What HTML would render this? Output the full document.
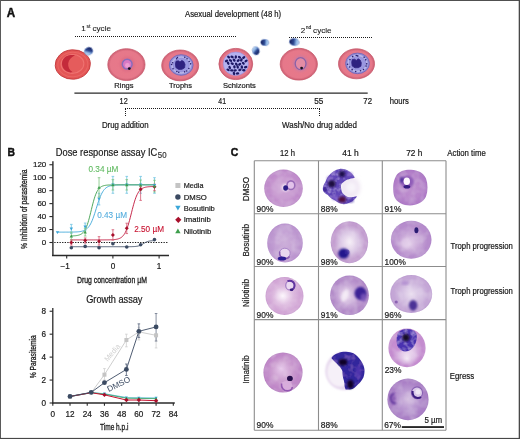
<!DOCTYPE html>
<html><head><meta charset="utf-8"><style>
html,body{margin:0;padding:0;background:#fff;}
body{width:520px;height:439px;overflow:hidden;}
svg{display:block;font-family:'Liberation Sans',sans-serif;will-change:transform;}
svg text{font-family:'Liberation Sans',sans-serif;}
</style></head><body>
<svg width="520" height="439" viewBox="0 0 520 439">
<defs>
<filter id="b05" x="-20%" y="-20%" width="140%" height="140%"><feGaussianBlur stdDeviation="0.5"/></filter>
<filter id="b08" x="-20%" y="-20%" width="140%" height="140%"><feGaussianBlur stdDeviation="0.8"/></filter>
<filter id="b12" x="-30%" y="-30%" width="160%" height="160%"><feGaussianBlur stdDeviation="1.2"/></filter>
<filter id="b2" x="-40%" y="-40%" width="180%" height="180%"><feGaussianBlur stdDeviation="2"/></filter>
<radialGradient id="rbc" cx="50%" cy="50%" r="50%">
  <stop offset="0" stop-color="#ee6e6e"/><stop offset="0.7" stop-color="#e86262"/><stop offset="0.88" stop-color="#e45a5a"/><stop offset="1" stop-color="#d04a4c"/>
</radialGradient>
<radialGradient id="pinkcell" cx="50%" cy="50%" r="50%">
  <stop offset="0" stop-color="#e8798a"/><stop offset="0.85" stop-color="#e6788a"/><stop offset="1" stop-color="#cc5e72"/>
</radialGradient>
<radialGradient id="mz" cx="60%" cy="35%" r="60%">
  <stop offset="0" stop-color="#14246a"/><stop offset="0.45" stop-color="#2a4a9a"/><stop offset="0.75" stop-color="#8ab8e8"/><stop offset="1" stop-color="#c8e0f6"/>
</radialGradient>
<linearGradient id="mzg1" x1="12%" y1="82%" x2="88%" y2="18%"><stop offset="0" stop-color="#c8def4"/><stop offset="0.3" stop-color="#8ab2e2"/><stop offset="0.55" stop-color="#2e4a94"/><stop offset="1" stop-color="#141c56"/></linearGradient><linearGradient id="mzg2" x1="25%" y1="7%" x2="75%" y2="93%"><stop offset="0" stop-color="#c8def4"/><stop offset="0.3" stop-color="#8ab2e2"/><stop offset="0.55" stop-color="#2e4a94"/><stop offset="1" stop-color="#141c56"/></linearGradient><linearGradient id="mzg3" x1="100%" y1="50%" x2="0%" y2="50%"><stop offset="0" stop-color="#c8def4"/><stop offset="0.3" stop-color="#8ab2e2"/><stop offset="0.55" stop-color="#2e4a94"/><stop offset="1" stop-color="#141c56"/></linearGradient><linearGradient id="mzg4" x1="100%" y1="50%" x2="0%" y2="50%"><stop offset="0" stop-color="#c8def4"/><stop offset="0.3" stop-color="#8ab2e2"/><stop offset="0.55" stop-color="#2e4a94"/><stop offset="1" stop-color="#141c56"/></linearGradient>
<filter id="tex" x="-20%" y="-20%" width="140%" height="140%">
  <feTurbulence type="fractalNoise" baseFrequency="0.12" numOctaves="2" seed="4" result="n"/>
  <feColorMatrix in="n" type="matrix" values="0 0 0 0 1  0 0 0 0 0.96  0 0 0 0 1  0 0 0 0.4 -0.16" result="w"/>
  <feComposite in="w" in2="SourceGraphic" operator="in" result="wm"/>
  <feMerge result="m"><feMergeNode in="SourceGraphic"/><feMergeNode in="wm"/></feMerge>
  <feGaussianBlur in="m" stdDeviation="0.55"/>
</filter>
<filter id="texd" x="-20%" y="-20%" width="140%" height="140%">
  <feTurbulence type="fractalNoise" baseFrequency="0.25" numOctaves="2" seed="9" result="n"/>
  <feColorMatrix in="n" type="matrix" values="0 0 0 0 0.55  0 0 0 0 0.42  0 0 0 0 0.85  0 0 0 1.2 -0.5" result="w"/>
  <feComposite in="w" in2="SourceGraphic" operator="in" result="wm"/>
  <feMerge result="m"><feMergeNode in="SourceGraphic"/><feMergeNode in="wm"/></feMerge>
  <feGaussianBlur in="m" stdDeviation="0.6"/>
</filter>
<radialGradient id="cg1" cx="50%" cy="50%" r="50%" fx="50%" fy="50%"><stop offset="0" stop-color="#d0a6d6"/><stop offset="0.5" stop-color="#c99ad0"/><stop offset="0.82" stop-color="#c08ccb"/><stop offset="0.92" stop-color="#c08ccb"/><stop offset="1" stop-color="#b884c4"/></radialGradient><radialGradient id="cgDM3" cx="50%" cy="50%" r="55%"><stop offset="0" stop-color="#c092cf"/><stop offset="0.6" stop-color="#b886cb"/><stop offset="0.88" stop-color="#ae7ac6"/><stop offset="1" stop-color="#a672c0"/></radialGradient><radialGradient id="cg2" cx="50%" cy="50%" r="50%" fx="50%" fy="50%"><stop offset="0" stop-color="#ccafd9"/><stop offset="0.5" stop-color="#c5a3d5"/><stop offset="0.82" stop-color="#bc96cf"/><stop offset="0.92" stop-color="#bc96cf"/><stop offset="1" stop-color="#b48ccb"/></radialGradient><radialGradient id="cg3" cx="50%" cy="50%" r="50%" fx="50%" fy="50%"><stop offset="0" stop-color="#f6eff7"/><stop offset="0.5" stop-color="#dac6e4"/><stop offset="0.82" stop-color="#c29ccf"/><stop offset="0.92" stop-color="#c29ccf"/><stop offset="1" stop-color="#bc96cc"/></radialGradient><radialGradient id="cg4" cx="50%" cy="50%" r="50%" fx="45%" fy="62%"><stop offset="0" stop-color="#e4d0ea"/><stop offset="0.5" stop-color="#c6a4d6"/><stop offset="0.82" stop-color="#b68ccc"/><stop offset="0.92" stop-color="#b68ccc"/><stop offset="1" stop-color="#ae84c8"/></radialGradient><radialGradient id="cg5" cx="50%" cy="50%" r="50%" fx="45%" fy="50%"><stop offset="0" stop-color="#fcf6fc"/><stop offset="0.5" stop-color="#ddbadf"/><stop offset="0.82" stop-color="#d2a6d6"/><stop offset="0.92" stop-color="#d2a6d6"/><stop offset="1" stop-color="#c89ace"/></radialGradient><radialGradient id="cg6" cx="50%" cy="50%" r="50%" fx="38%" fy="50%"><stop offset="0" stop-color="#f0e4f2"/><stop offset="0.5" stop-color="#c6a6d6"/><stop offset="0.82" stop-color="#b28ac8"/><stop offset="0.92" stop-color="#b28ac8"/><stop offset="1" stop-color="#aa82c4"/></radialGradient><radialGradient id="cg7" cx="50%" cy="50%" r="50%" fx="50%" fy="50%"><stop offset="0" stop-color="#ebe0f0"/><stop offset="0.5" stop-color="#d2bce0"/><stop offset="0.82" stop-color="#c4a6d6"/><stop offset="0.92" stop-color="#c4a6d6"/><stop offset="1" stop-color="#ba9acf"/></radialGradient><radialGradient id="cg8" cx="50%" cy="50%" r="50%" fx="45%" fy="40%"><stop offset="0" stop-color="#e6c8ea"/><stop offset="0.5" stop-color="#cc9ed0"/><stop offset="0.82" stop-color="#c088c8"/><stop offset="0.92" stop-color="#c088c8"/><stop offset="1" stop-color="#b680c0"/></radialGradient><filter id="texd2" x="-20%" y="-20%" width="140%" height="140%">
  <feTurbulence type="fractalNoise" baseFrequency="0.18" numOctaves="2" seed="21" result="n"/>
  <feColorMatrix in="n" type="matrix" values="0 0 0 0 0.42  0 0 0 0 0.22  0 0 0 0 0.72  0 0 0 0.7 -0.32" result="w"/>
  <feComposite in="w" in2="SourceGraphic" operator="in" result="wm"/>
  <feMerge result="m"><feMergeNode in="SourceGraphic"/><feMergeNode in="wm"/></feMerge>
  <feGaussianBlur in="m" stdDeviation="0.6"/>
</filter><radialGradient id="cg9" cx="50%" cy="50%" r="50%" fx="50%" fy="78%"><stop offset="0" stop-color="#f2e6f4"/><stop offset="0.5" stop-color="#d8b4e0"/><stop offset="0.82" stop-color="#c48ccf"/><stop offset="0.92" stop-color="#c48ccf"/><stop offset="1" stop-color="#c690d0"/></radialGradient><radialGradient id="cg10" cx="50%" cy="50%" r="50%" fx="50%" fy="50%"><stop offset="0" stop-color="#d4bee0"/><stop offset="0.5" stop-color="#b896d0"/><stop offset="0.82" stop-color="#aa80c6"/><stop offset="0.92" stop-color="#aa80c6"/><stop offset="1" stop-color="#a278c0"/></radialGradient></defs>
<rect width="520" height="439" fill="#fff"/>
<text x="6.70" y="16.60" font-size="12.0" fill="#111" stroke="#111" stroke-width="0.45" textLength="8.40" lengthAdjust="spacingAndGlyphs" font-weight="bold">A</text>
<text x="185.00" y="17.30" font-size="8.29" fill="#1a1a1a" stroke="#1a1a1a" stroke-width="0.2" textLength="96.20" lengthAdjust="spacingAndGlyphs">Asexual development (48 h)</text>
<text x="81.3" y="31.4" font-size="8.1" fill="#1a1a1a" stroke="#1a1a1a" stroke-width="0.1">1<tspan font-size="5.0" dy="-3.2" dx="0.6">st</tspan><tspan dy="3.2" dx="2.2">cycle</tspan></text>
<text x="300.8" y="32.5" font-size="8.1" fill="#1a1a1a" stroke="#1a1a1a" stroke-width="0.1">2<tspan font-size="5.0" dy="-3.2" dx="0.4">nd</tspan><tspan dy="3.2" dx="1.8">cycle</tspan></text>
<line x1="75.00" y1="36.50" x2="236.00" y2="36.50" stroke="#1a1a1a" stroke-width="1.0" stroke-dasharray="1 1"/>
<line x1="289.00" y1="37.50" x2="372.00" y2="37.50" stroke="#1a1a1a" stroke-width="1.0" stroke-dasharray="1 1"/>
<g transform="translate(72.8,64.5) rotate(-4)"><ellipse rx="17.6" ry="14.7" fill="#e35656" stroke="#c43a3e" stroke-width="0.9"/><ellipse cx="0" cy="0" rx="15.0" ry="12.3" fill="none" stroke="#e96664" stroke-width="1.0"/><ellipse cx="-0.3" cy="-0.6" rx="11.4" ry="9.4" fill="#e55c5c" stroke="#ee7270" stroke-width="1.1"/></g>
<path d="M75,55.3 C70,54.3 64.5,55.8 62.6,60.5 C61,64.5 62.8,69 66.5,71.3 C68.8,72.5 71,72.6 72.6,72.1 C69.4,70 67.8,66.8 68.2,63.2 C68.7,59.7 71.6,57 75,55.3 Z" fill="#c42a3a" filter="url(#b05)"/>
<ellipse cx="88.6" cy="51.2" rx="4.2" ry="3.7" transform="rotate(-30 88.6 51.2)" fill="url(#mzg1)" stroke="#5a7ac0" stroke-width="0.5" filter="url(#b05)"/>
<ellipse cx="255.9" cy="50.8" rx="3.4" ry="4.1" transform="rotate(-15 255.9 50.8)" fill="url(#mzg2)" stroke="#5a7ac0" stroke-width="0.5" filter="url(#b05)"/>
<ellipse cx="264.8" cy="42.5" rx="4.1" ry="3.1" transform="rotate(5 264.8 42.5)" fill="url(#mzg3)" stroke="#5a7ac0" stroke-width="0.5" filter="url(#b05)"/>
<ellipse cx="294.3" cy="42.0" rx="5.0" ry="3.6" transform="rotate(8 294.3 42.0)" fill="url(#mzg4)" stroke="#5a7ac0" stroke-width="0.5" filter="url(#b05)"/>
<ellipse cx="126.4" cy="64.6" rx="18.6" ry="15.9" fill="url(#pinkcell)" stroke="#c85a6c" stroke-width="0.8"/>
<circle cx="127.2" cy="64.19999999999999" r="7.6" fill="#dc6c84" filter="url(#b08)" opacity="0.8"/>
<circle cx="127.2" cy="64.19999999999999" r="4.9" fill="#d878c4" stroke="#8a6cbc" stroke-width="1.5" filter="url(#b05)"/>
<circle cx="127.4" cy="65.39999999999999" r="2.4" fill="#ec9cd2" filter="url(#b05)"/>
<circle cx="129.3" cy="68.6" r="1.4" fill="#14101c"/>
<ellipse cx="298.8" cy="64.2" rx="18.6" ry="15.9" fill="url(#pinkcell)" stroke="#c85a6c" stroke-width="0.8"/>
<ellipse cx="300.6" cy="63.6" rx="7.6" ry="8" fill="#c87aa2" filter="url(#b08)" opacity="0.8"/>
<ellipse cx="300.6" cy="63.6" rx="5.4" ry="6.0" fill="#e48ca4" stroke="#8a62a8" stroke-width="1.3" filter="url(#b05)"/>
<circle cx="301.6" cy="68.10000000000001" r="1.4" fill="#14101c"/>
<ellipse cx="180.2" cy="65.4" rx="18.5" ry="15.4" fill="url(#pinkcell)" stroke="#c85a6c" stroke-width="0.8"/>
<ellipse cx="181.2" cy="65.0" rx="11.9" ry="10.3" fill="#9490da" stroke="#7066b8" stroke-width="0.9" filter="url(#b05)"/>
<ellipse cx="181.2" cy="65.0" rx="9.4" ry="8.0" fill="none" stroke="#b8b6ea" stroke-width="1.6" filter="url(#b05)"/>
<ellipse cx="181.2" cy="65.0" rx="7.6" ry="6.6" fill="#9a98e0" filter="url(#b05)"/>
<path d="M175.40,63.90 L176.00,61.20 L178.40,60.80 L180.00,62.00 L181.80,60.40 L183.80,61.60 L185.00,64.40 L184.60,67.80 L182.00,69.30 L178.70,69.40 L175.90,67.60 Z" fill="#2e2280" stroke="#2e2280" stroke-width="0.8" stroke-linejoin="round" filter="url(#b05)"/>
<circle cx="190.62" cy="63.84" r="0.8" fill="#2a2070"/>
<circle cx="188.84" cy="68.56" r="0.8" fill="#2a2070"/>
<circle cx="186.71" cy="70.98" r="0.8" fill="#2a2070"/>
<circle cx="184.66" cy="71.85" r="0.8" fill="#2a2070"/>
<circle cx="178.76" cy="72.18" r="0.8" fill="#2a2070"/>
<circle cx="176.86" cy="71.56" r="0.8" fill="#2a2070"/>
<circle cx="173.06" cy="68.70" r="0.8" fill="#2a2070"/>
<circle cx="171.58" cy="64.50" r="0.8" fill="#2a2070"/>
<circle cx="172.59" cy="62.74" r="0.8" fill="#2a2070"/>
<circle cx="176.64" cy="58.74" r="0.8" fill="#2a2070"/>
<circle cx="177.42" cy="57.57" r="0.8" fill="#2a2070"/>
<circle cx="184.79" cy="57.27" r="0.8" fill="#2a2070"/>
<circle cx="187.04" cy="58.73" r="0.8" fill="#2a2070"/>
<circle cx="189.15" cy="61.46" r="0.8" fill="#2a2070"/>
<ellipse cx="356.5" cy="63.8" rx="18" ry="15" fill="url(#pinkcell)" stroke="#c85a6c" stroke-width="0.8"/>
<ellipse cx="357.5" cy="63.4" rx="11.9" ry="10.3" fill="#9490da" stroke="#7066b8" stroke-width="0.9" filter="url(#b05)"/>
<ellipse cx="357.5" cy="63.4" rx="9.4" ry="8.0" fill="none" stroke="#b8b6ea" stroke-width="1.6" filter="url(#b05)"/>
<ellipse cx="357.5" cy="63.4" rx="7.6" ry="6.6" fill="#9a98e0" filter="url(#b05)"/>
<path d="M351.70,62.30 L352.30,59.60 L354.70,59.20 L356.30,60.40 L358.10,58.80 L360.10,60.00 L361.30,62.80 L360.90,66.20 L358.30,67.70 L355.00,67.80 L352.20,66.00 Z" fill="#2e2280" stroke="#2e2280" stroke-width="0.8" stroke-linejoin="round" filter="url(#b05)"/>
<circle cx="366.69" cy="63.87" r="0.8" fill="#2a2070"/>
<circle cx="366.10" cy="66.10" r="0.8" fill="#2a2070"/>
<circle cx="363.47" cy="69.57" r="0.8" fill="#2a2070"/>
<circle cx="360.57" cy="70.68" r="0.8" fill="#2a2070"/>
<circle cx="355.67" cy="71.44" r="0.8" fill="#2a2070"/>
<circle cx="352.14" cy="69.65" r="0.8" fill="#2a2070"/>
<circle cx="349.61" cy="67.02" r="0.8" fill="#2a2070"/>
<circle cx="347.55" cy="64.21" r="0.8" fill="#2a2070"/>
<circle cx="349.96" cy="59.58" r="0.8" fill="#2a2070"/>
<circle cx="352.73" cy="56.61" r="0.8" fill="#2a2070"/>
<circle cx="356.27" cy="55.56" r="0.8" fill="#2a2070"/>
<circle cx="357.73" cy="55.88" r="0.8" fill="#2a2070"/>
<circle cx="364.15" cy="57.29" r="0.8" fill="#2a2070"/>
<circle cx="365.74" cy="59.83" r="0.8" fill="#2a2070"/>
<ellipse cx="235.8" cy="64.0" rx="16.9" ry="15.6" fill="url(#pinkcell)" stroke="#c85a6c" stroke-width="0.8"/>
<ellipse cx="235.8" cy="63.7" rx="12.6" ry="11.7" fill="#b4b2f0" stroke="#9a8edc" stroke-width="0.6" filter="url(#b05)"/>
<ellipse cx="228.65" cy="57.04" rx="1.75" ry="1.2" transform="rotate(41 228.65 57.04)" fill="#1c1864"/>
<ellipse cx="232.08" cy="56.90" rx="1.75" ry="1.2" transform="rotate(22 232.08 56.90)" fill="#1c1864"/>
<ellipse cx="235.81" cy="56.99" rx="1.75" ry="1.2" transform="rotate(95 235.81 56.99)" fill="#1c1864"/>
<ellipse cx="239.49" cy="57.19" rx="1.75" ry="1.2" transform="rotate(34 239.49 57.19)" fill="#1c1864"/>
<ellipse cx="243.72" cy="57.50" rx="1.75" ry="1.2" transform="rotate(145 243.72 57.50)" fill="#1c1864"/>
<ellipse cx="226.55" cy="60.86" rx="1.75" ry="1.2" transform="rotate(151 226.55 60.86)" fill="#1c1864"/>
<ellipse cx="230.52" cy="60.47" rx="1.75" ry="1.2" transform="rotate(33 230.52 60.47)" fill="#1c1864"/>
<ellipse cx="234.15" cy="60.11" rx="1.75" ry="1.2" transform="rotate(50 234.15 60.11)" fill="#1c1864"/>
<ellipse cx="238.21" cy="60.47" rx="1.75" ry="1.2" transform="rotate(145 238.21 60.47)" fill="#1c1864"/>
<ellipse cx="241.35" cy="59.96" rx="1.75" ry="1.2" transform="rotate(116 241.35 59.96)" fill="#1c1864"/>
<ellipse cx="246.05" cy="60.89" rx="1.75" ry="1.2" transform="rotate(145 246.05 60.89)" fill="#1c1864"/>
<ellipse cx="228.16" cy="63.24" rx="1.75" ry="1.2" transform="rotate(62 228.16 63.24)" fill="#1c1864"/>
<ellipse cx="232.21" cy="63.53" rx="1.75" ry="1.2" transform="rotate(23 232.21 63.53)" fill="#1c1864"/>
<ellipse cx="236.33" cy="64.18" rx="1.75" ry="1.2" transform="rotate(53 236.33 64.18)" fill="#1c1864"/>
<ellipse cx="239.71" cy="64.20" rx="1.75" ry="1.2" transform="rotate(143 239.71 64.20)" fill="#1c1864"/>
<ellipse cx="243.33" cy="63.28" rx="1.75" ry="1.2" transform="rotate(49 243.33 63.28)" fill="#1c1864"/>
<ellipse cx="229.69" cy="67.46" rx="1.75" ry="1.2" transform="rotate(62 229.69 67.46)" fill="#1c1864"/>
<ellipse cx="234.41" cy="66.88" rx="1.75" ry="1.2" transform="rotate(75 234.41 66.88)" fill="#1c1864"/>
<ellipse cx="237.69" cy="67.02" rx="1.75" ry="1.2" transform="rotate(76 237.69 67.02)" fill="#1c1864"/>
<ellipse cx="241.85" cy="67.10" rx="1.75" ry="1.2" transform="rotate(74 241.85 67.10)" fill="#1c1864"/>
<ellipse cx="245.63" cy="67.12" rx="1.75" ry="1.2" transform="rotate(166 245.63 67.12)" fill="#1c1864"/>
<ellipse cx="228.07" cy="69.81" rx="1.75" ry="1.2" transform="rotate(28 228.07 69.81)" fill="#1c1864"/>
<ellipse cx="231.78" cy="70.38" rx="1.75" ry="1.2" transform="rotate(1 231.78 70.38)" fill="#1c1864"/>
<ellipse cx="235.13" cy="70.42" rx="1.75" ry="1.2" transform="rotate(170 235.13 70.42)" fill="#1c1864"/>
<ellipse cx="239.89" cy="69.86" rx="1.75" ry="1.2" transform="rotate(158 239.89 69.86)" fill="#1c1864"/>
<ellipse cx="243.78" cy="70.27" rx="1.75" ry="1.2" transform="rotate(178 243.78 70.27)" fill="#1c1864"/>
<ellipse cx="233.98" cy="73.42" rx="1.75" ry="1.2" transform="rotate(78 233.98 73.42)" fill="#1c1864"/>
<ellipse cx="237.56" cy="73.41" rx="1.75" ry="1.2" transform="rotate(171 237.56 73.41)" fill="#1c1864"/>
<text x="114.30" y="87.80" font-size="7.98" fill="#1a1a1a" stroke="#1a1a1a" stroke-width="0.2" textLength="19.20" lengthAdjust="spacingAndGlyphs">Rings</text>
<text x="169.00" y="88.00" font-size="7.98" fill="#1a1a1a" stroke="#1a1a1a" stroke-width="0.2" textLength="22.90" lengthAdjust="spacingAndGlyphs">Trophs</text>
<text x="223.00" y="87.90" font-size="7.98" fill="#1a1a1a" stroke="#1a1a1a" stroke-width="0.2" textLength="32.80" lengthAdjust="spacingAndGlyphs">Schizonts</text>
<line x1="74.40" y1="93.20" x2="367.70" y2="93.20" stroke="#2a2a2a" stroke-width="1.2"/>
<text x="119.60" y="103.70" font-size="8.19" fill="#1a1a1a" stroke="#1a1a1a" stroke-width="0.2" textLength="8.10" lengthAdjust="spacingAndGlyphs">12</text>
<text x="218.30" y="103.70" font-size="8.19" fill="#1a1a1a" stroke="#1a1a1a" stroke-width="0.2" textLength="7.70" lengthAdjust="spacingAndGlyphs">41</text>
<text x="314.20" y="103.70" font-size="8.19" fill="#1a1a1a" stroke="#1a1a1a" stroke-width="0.2" textLength="9.10" lengthAdjust="spacingAndGlyphs">55</text>
<text x="363.30" y="103.70" font-size="8.19" fill="#1a1a1a" stroke="#1a1a1a" stroke-width="0.2" textLength="8.70" lengthAdjust="spacingAndGlyphs">72</text>
<text x="389.70" y="103.50" font-size="8.19" fill="#1a1a1a" stroke="#1a1a1a" stroke-width="0.2" textLength="19.20" lengthAdjust="spacingAndGlyphs">hours</text>
<line x1="125.00" y1="108.50" x2="320.00" y2="108.50" stroke="#1a1a1a" stroke-width="1.0" stroke-dasharray="1 1"/>
<line x1="125.50" y1="109.00" x2="125.50" y2="117.00" stroke="#1a1a1a" stroke-width="1.0" stroke-dasharray="1 1"/>
<line x1="319.50" y1="109.00" x2="319.50" y2="117.00" stroke="#1a1a1a" stroke-width="1.0" stroke-dasharray="1 1"/>
<text x="101.90" y="127.70" font-size="8.19" fill="#1a1a1a" stroke="#1a1a1a" stroke-width="0.2" textLength="46.60" lengthAdjust="spacingAndGlyphs">Drug addition</text>
<text x="282.00" y="127.70" font-size="8.19" fill="#1a1a1a" stroke="#1a1a1a" stroke-width="0.2" textLength="75.00" lengthAdjust="spacingAndGlyphs">Wash/No drug added</text>
<text x="7.60" y="155.90" font-size="11.6" fill="#111" stroke="#111" stroke-width="0.45" textLength="7.50" lengthAdjust="spacingAndGlyphs" font-weight="bold">B</text>
<text x="55.80" y="155.60" font-size="10.5" fill="#1a1a1a" stroke="#1a1a1a" stroke-width="0.2" textLength="101.40" lengthAdjust="spacingAndGlyphs">Dose response assay IC</text>
<text x="157.80" y="157.60" font-size="8.19" fill="#333" stroke="#333" stroke-width="0.2" textLength="8.70" lengthAdjust="spacingAndGlyphs">50</text>
<line x1="52.90" y1="161.20" x2="52.90" y2="256.10" stroke="#2a2a2a" stroke-width="1.4"/>
<line x1="52.00" y1="255.50" x2="169.00" y2="255.50" stroke="#2a2a2a" stroke-width="1.3"/>
<line x1="49.40" y1="242.50" x2="52.90" y2="242.50" stroke="#2a2a2a" stroke-width="1.1"/>
<text x="46.30" y="245.20" font-size="7.98" fill="#1a1a1a" stroke="#1a1a1a" stroke-width="0.2" text-anchor="end">0</text>
<line x1="49.40" y1="229.54" x2="52.90" y2="229.54" stroke="#2a2a2a" stroke-width="1.1"/>
<text x="46.30" y="232.24" font-size="7.98" fill="#1a1a1a" stroke="#1a1a1a" stroke-width="0.2" text-anchor="end">20</text>
<line x1="49.40" y1="216.58" x2="52.90" y2="216.58" stroke="#2a2a2a" stroke-width="1.1"/>
<text x="46.30" y="219.28" font-size="7.98" fill="#1a1a1a" stroke="#1a1a1a" stroke-width="0.2" text-anchor="end">40</text>
<line x1="49.40" y1="203.62" x2="52.90" y2="203.62" stroke="#2a2a2a" stroke-width="1.1"/>
<text x="46.30" y="206.32" font-size="7.98" fill="#1a1a1a" stroke="#1a1a1a" stroke-width="0.2" text-anchor="end">60</text>
<line x1="49.40" y1="190.66" x2="52.90" y2="190.66" stroke="#2a2a2a" stroke-width="1.1"/>
<text x="46.30" y="193.36" font-size="7.98" fill="#1a1a1a" stroke="#1a1a1a" stroke-width="0.2" text-anchor="end">80</text>
<line x1="49.40" y1="177.70" x2="52.90" y2="177.70" stroke="#2a2a2a" stroke-width="1.1"/>
<text x="46.30" y="180.40" font-size="7.98" fill="#1a1a1a" stroke="#1a1a1a" stroke-width="0.2" text-anchor="end">100</text>
<line x1="49.40" y1="164.74" x2="52.90" y2="164.74" stroke="#2a2a2a" stroke-width="1.1"/>
<text x="46.30" y="167.44" font-size="7.98" fill="#1a1a1a" stroke="#1a1a1a" stroke-width="0.2" text-anchor="end">120</text>
<line x1="66.70" y1="255.50" x2="66.70" y2="258.60" stroke="#2a2a2a" stroke-width="1.1"/>
<text x="65.20" y="269.20" font-size="8.19" fill="#1a1a1a" stroke="#1a1a1a" stroke-width="0.2" text-anchor="middle">−1</text>
<line x1="112.90" y1="255.50" x2="112.90" y2="258.60" stroke="#2a2a2a" stroke-width="1.1"/>
<text x="112.90" y="269.20" font-size="8.19" fill="#1a1a1a" stroke="#1a1a1a" stroke-width="0.2" text-anchor="middle">0</text>
<line x1="159.10" y1="255.50" x2="159.10" y2="258.60" stroke="#2a2a2a" stroke-width="1.1"/>
<text x="159.10" y="269.20" font-size="8.19" fill="#1a1a1a" stroke="#1a1a1a" stroke-width="0.2" text-anchor="middle">1</text>
<text x="0" y="0" font-size="9.03" fill="#1a1a1a" text-anchor="middle" dominant-baseline="central" stroke="#1a1a1a" stroke-width="0.3" textLength="79.60" lengthAdjust="spacingAndGlyphs" transform="translate(23.60,209.20) rotate(-90)">% Inhibition of parasitemia</text>
<text x="76.90" y="283.30" font-size="9.03" fill="#1a1a1a" stroke="#1a1a1a" stroke-width="0.3" textLength="70.00" lengthAdjust="spacingAndGlyphs">Drug concentration µM</text>
<line x1="54.30" y1="242.50" x2="167.50" y2="242.50" stroke="#1a1a1a" stroke-width="1.05" stroke-dasharray="1.3 1.3"/>
<polyline points="71.32,246.71 72.01,246.71 72.71,246.71 73.40,246.71 74.09,246.71 74.78,246.71 75.48,246.71 76.17,246.71 76.86,246.71 77.56,246.71 78.25,246.71 78.94,246.71 79.64,246.71 80.33,246.71 81.02,246.71 81.72,246.71 82.41,246.71 83.10,246.71 83.79,246.71 84.49,246.71 85.18,246.71 85.87,246.71 86.57,246.71 87.26,246.71 87.95,246.71 88.65,246.71 89.34,246.71 90.03,246.71 90.72,246.71 91.42,246.71 92.11,246.71 92.80,246.71 93.50,246.71 94.19,246.71 94.88,246.71 95.58,246.71 96.27,246.71 96.96,246.71 97.65,246.71 98.35,246.71 99.04,246.71 99.73,246.71 100.43,246.71 101.12,246.71 101.81,246.71 102.51,246.71 103.20,246.71 103.89,246.71 104.58,246.71 105.28,246.71 105.97,246.71 106.66,246.71 107.36,246.71 108.05,246.71 108.74,246.71 109.44,246.71 110.13,246.71 110.82,246.71 111.51,246.71 112.21,246.71 112.90,246.71 113.59,246.71 114.29,246.71 114.98,246.71 115.67,246.71 116.37,246.71 117.06,246.71 117.75,246.71 118.44,246.71 119.14,246.71 119.83,246.71 120.52,246.71 121.22,246.71 121.91,246.71 122.60,246.71 123.30,246.71 123.99,246.71 124.68,246.71 125.37,246.71 126.07,246.71 126.76,246.70 127.45,246.70 128.15,246.70 128.84,246.69 129.53,246.69 130.22,246.68 130.92,246.67 131.61,246.66 132.30,246.64 133.00,246.62 133.69,246.59 134.38,246.55 135.08,246.50 135.77,246.43 136.46,246.35 137.16,246.24 137.85,246.10 138.54,245.93 139.23,245.73 139.93,245.48 140.62,245.18 141.31,244.84 142.01,244.46 142.70,244.06 143.39,243.63 144.09,243.21 144.78,242.80 145.47,242.43 146.16,242.09 146.86,241.79 147.55,241.54 148.24,241.33 148.94,241.16 149.63,241.03 150.32,240.92 151.02,240.84 151.71,240.77 152.40,240.72 153.09,240.68 153.79,240.65 154.48,240.63" fill="none" stroke="#3b4a62" stroke-width="0.9"/>
<polyline points="71.32,239.91 72.01,239.91 72.71,239.91 73.40,239.91 74.09,239.91 74.78,239.91 75.48,239.91 76.17,239.91 76.86,239.91 77.56,239.91 78.25,239.91 78.94,239.91 79.64,239.91 80.33,239.91 81.02,239.91 81.72,239.91 82.41,239.91 83.10,239.91 83.79,239.91 84.49,239.91 85.18,239.91 85.87,239.91 86.57,239.91 87.26,239.91 87.95,239.91 88.65,239.91 89.34,239.91 90.03,239.91 90.72,239.91 91.42,239.91 92.11,239.91 92.80,239.91 93.50,239.91 94.19,239.91 94.88,239.91 95.58,239.91 96.27,239.91 96.96,239.91 97.65,239.91 98.35,239.91 99.04,239.90 99.73,239.90 100.43,239.90 101.12,239.90 101.81,239.90 102.51,239.90 103.20,239.90 103.89,239.89 104.58,239.89 105.28,239.89 105.97,239.88 106.66,239.88 107.36,239.87 108.05,239.86 108.74,239.85 109.44,239.83 110.13,239.82 110.82,239.79 111.51,239.77 112.21,239.74 112.90,239.70 113.59,239.65 114.29,239.59 114.98,239.51 115.67,239.42 116.37,239.31 117.06,239.18 117.75,239.02 118.44,238.81 119.14,238.57 119.83,238.27 120.52,237.91 121.22,237.47 121.91,236.94 122.60,236.30 123.30,235.53 123.99,234.63 124.68,233.55 125.37,232.30 126.07,230.84 126.76,229.18 127.45,227.29 128.15,225.18 128.84,222.87 129.53,220.38 130.22,217.75 130.92,215.02 131.61,212.26 132.30,209.51 133.00,206.84 133.69,204.30 134.38,201.92 135.08,199.75 135.77,197.79 136.46,196.04 137.16,194.52 137.85,193.20 138.54,192.07 139.23,191.11 139.93,190.30 140.62,189.62 141.31,189.06 142.01,188.59 142.70,188.20 143.39,187.88 144.09,187.62 144.78,187.40 145.47,187.23 146.16,187.08 146.86,186.97 147.55,186.87 148.24,186.79 148.94,186.73 149.63,186.68 150.32,186.63 151.02,186.60 151.71,186.57 152.40,186.55 153.09,186.53 153.79,186.51 154.48,186.50" fill="none" stroke="#c0143a" stroke-width="0.9"/>
<polyline points="57.46,232.13 58.27,232.13 59.08,232.13 59.89,232.13 60.69,232.13 61.50,232.13 62.31,232.13 63.12,232.13 63.93,232.13 64.74,232.12 65.55,232.12 66.35,232.12 67.16,232.12 67.97,232.11 68.78,232.11 69.59,232.10 70.40,232.09 71.20,232.08 72.01,232.07 72.82,232.06 73.63,232.04 74.44,232.01 75.25,231.98 76.06,231.95 76.86,231.90 77.67,231.84 78.48,231.77 79.29,231.69 80.10,231.58 80.91,231.44 81.72,231.27 82.52,231.06 83.33,230.81 84.14,230.49 84.95,230.10 85.76,229.62 86.57,229.04 87.37,228.33 88.18,227.48 88.99,226.47 89.80,225.26 90.61,223.86 91.42,222.24 92.23,220.39 93.03,218.33 93.84,216.07 94.65,213.64 95.46,211.09 96.27,208.48 97.08,205.87 97.89,203.32 98.69,200.89 99.50,198.63 100.31,196.57 101.12,194.72 101.93,193.10 102.74,191.70 103.54,190.49 104.35,189.48 105.16,188.63 105.97,187.92 106.78,187.34 107.59,186.86 108.40,186.47 109.20,186.15 110.01,185.90 110.82,185.69 111.63,185.52 112.44,185.38 113.25,185.27 114.06,185.19 114.86,185.12 115.67,185.06 116.48,185.01 117.29,184.98 118.10,184.95 118.91,184.92 119.71,184.90 120.52,184.89 121.33,184.88 122.14,184.87 122.95,184.86 123.76,184.85 124.57,184.85 125.37,184.84 126.18,184.84 126.99,184.84 127.80,184.84 128.61,184.83 129.42,184.83 130.23,184.83 131.03,184.83 131.84,184.83 132.65,184.83 133.46,184.83 134.27,184.83 135.08,184.83 135.88,184.83 136.69,184.83 137.50,184.83 138.31,184.83 139.12,184.83 139.93,184.83 140.74,184.83 141.54,184.83 142.35,184.83 143.16,184.83 143.97,184.83 144.78,184.83 145.59,184.83 146.40,184.83 147.20,184.83 148.01,184.83 148.82,184.83 149.63,184.83 150.44,184.83 151.25,184.83 152.05,184.83 152.86,184.83 153.67,184.83 154.48,184.83" fill="none" stroke="#3aa6d8" stroke-width="0.9"/>
<polyline points="71.32,235.94 72.01,235.92 72.71,235.89 73.40,235.86 74.09,235.82 74.78,235.77 75.48,235.71 76.17,235.63 76.86,235.53 77.56,235.41 78.25,235.26 78.94,235.07 79.64,234.83 80.33,234.54 81.02,234.19 81.72,233.75 82.41,233.20 83.10,232.54 83.79,231.74 84.49,230.77 85.18,229.62 85.87,228.25 86.57,226.66 87.26,224.81 87.95,222.73 88.65,220.40 89.34,217.86 90.03,215.16 90.72,212.34 91.42,209.47 92.11,206.62 92.80,203.87 93.50,201.27 94.19,198.87 94.88,196.70 95.58,194.78 96.27,193.10 96.96,191.66 97.65,190.44 98.35,189.41 99.04,188.56 99.73,187.85 100.43,187.27 101.12,186.80 101.81,186.41 102.51,186.10 103.20,185.85 103.89,185.65 104.58,185.49 105.28,185.36 105.97,185.25 106.66,185.17 107.36,185.10 108.05,185.04 108.74,185.00 109.44,184.97 110.13,184.94 110.82,184.92 111.51,184.90 112.21,184.88 112.90,184.87 113.59,184.86 114.29,184.86 114.98,184.85 115.67,184.85 116.37,184.84 117.06,184.84 117.75,184.84 118.44,184.84 119.14,184.83 119.83,184.83 120.52,184.83 121.22,184.83 121.91,184.83 122.60,184.83 123.30,184.83 123.99,184.83 124.68,184.83 125.37,184.83 126.07,184.83 126.76,184.83 127.45,184.83 128.15,184.83 128.84,184.83 129.53,184.83 130.22,184.83 130.92,184.83 131.61,184.83 132.30,184.83 133.00,184.83 133.69,184.83 134.38,184.83 135.08,184.83 135.77,184.83 136.46,184.83 137.16,184.83 137.85,184.83 138.54,184.83 139.23,184.83 139.93,184.83 140.62,184.83 141.31,184.83 142.01,184.83 142.70,184.83 143.39,184.83 144.09,184.83 144.78,184.83 145.47,184.83 146.16,184.83 146.86,184.83 147.55,184.83 148.24,184.83 148.94,184.83 149.63,184.83 150.32,184.83 151.02,184.83 151.71,184.83 152.40,184.83 153.09,184.83 153.79,184.83 154.48,184.83" fill="none" stroke="#3d9e4c" stroke-width="0.9"/>
<line x1="71.32" y1="224.36" x2="71.32" y2="233.43" stroke="#7cc8e4" stroke-width="0.9"/>
<line x1="70.02" y1="224.36" x2="72.62" y2="224.36" stroke="#7cc8e4" stroke-width="0.9"/>
<line x1="70.02" y1="233.43" x2="72.62" y2="233.43" stroke="#7cc8e4" stroke-width="0.9"/>
<line x1="85.18" y1="223.06" x2="85.18" y2="230.84" stroke="#7cc8e4" stroke-width="0.9"/>
<line x1="83.88" y1="223.06" x2="86.48" y2="223.06" stroke="#7cc8e4" stroke-width="0.9"/>
<line x1="83.88" y1="230.84" x2="86.48" y2="230.84" stroke="#7cc8e4" stroke-width="0.9"/>
<line x1="99.04" y1="193.25" x2="99.04" y2="204.92" stroke="#7cc8e4" stroke-width="0.9"/>
<line x1="97.74" y1="193.25" x2="100.34" y2="193.25" stroke="#7cc8e4" stroke-width="0.9"/>
<line x1="97.74" y1="204.92" x2="100.34" y2="204.92" stroke="#7cc8e4" stroke-width="0.9"/>
<line x1="112.90" y1="176.40" x2="112.90" y2="193.25" stroke="#7cc8e4" stroke-width="0.9"/>
<line x1="111.60" y1="176.40" x2="114.20" y2="176.40" stroke="#7cc8e4" stroke-width="0.9"/>
<line x1="111.60" y1="193.25" x2="114.20" y2="193.25" stroke="#7cc8e4" stroke-width="0.9"/>
<line x1="126.76" y1="176.40" x2="126.76" y2="193.25" stroke="#7cc8e4" stroke-width="0.9"/>
<line x1="125.46" y1="176.40" x2="128.06" y2="176.40" stroke="#7cc8e4" stroke-width="0.9"/>
<line x1="125.46" y1="193.25" x2="128.06" y2="193.25" stroke="#7cc8e4" stroke-width="0.9"/>
<line x1="140.62" y1="176.40" x2="140.62" y2="193.25" stroke="#7cc8e4" stroke-width="0.9"/>
<line x1="139.32" y1="176.40" x2="141.92" y2="176.40" stroke="#7cc8e4" stroke-width="0.9"/>
<line x1="139.32" y1="193.25" x2="141.92" y2="193.25" stroke="#7cc8e4" stroke-width="0.9"/>
<line x1="154.48" y1="177.70" x2="154.48" y2="193.25" stroke="#7cc8e4" stroke-width="0.9"/>
<line x1="153.18" y1="177.70" x2="155.78" y2="177.70" stroke="#7cc8e4" stroke-width="0.9"/>
<line x1="153.18" y1="193.25" x2="155.78" y2="193.25" stroke="#7cc8e4" stroke-width="0.9"/>
<line x1="71.32" y1="232.13" x2="71.32" y2="239.91" stroke="#7cc47e" stroke-width="0.8"/>
<line x1="70.02" y1="232.13" x2="72.62" y2="232.13" stroke="#7cc47e" stroke-width="0.8"/>
<line x1="70.02" y1="239.91" x2="72.62" y2="239.91" stroke="#7cc47e" stroke-width="0.8"/>
<line x1="85.18" y1="228.24" x2="85.18" y2="236.02" stroke="#7cc47e" stroke-width="0.8"/>
<line x1="83.88" y1="228.24" x2="86.48" y2="228.24" stroke="#7cc47e" stroke-width="0.8"/>
<line x1="83.88" y1="236.02" x2="86.48" y2="236.02" stroke="#7cc47e" stroke-width="0.8"/>
<line x1="99.04" y1="177.70" x2="99.04" y2="197.14" stroke="#7cc47e" stroke-width="0.8"/>
<line x1="97.74" y1="177.70" x2="100.34" y2="177.70" stroke="#7cc47e" stroke-width="0.8"/>
<line x1="97.74" y1="197.14" x2="100.34" y2="197.14" stroke="#7cc47e" stroke-width="0.8"/>
<line x1="112.90" y1="179.64" x2="112.90" y2="190.01" stroke="#7cc47e" stroke-width="0.8"/>
<line x1="111.60" y1="179.64" x2="114.20" y2="179.64" stroke="#7cc47e" stroke-width="0.8"/>
<line x1="111.60" y1="190.01" x2="114.20" y2="190.01" stroke="#7cc47e" stroke-width="0.8"/>
<line x1="126.76" y1="179.64" x2="126.76" y2="190.01" stroke="#7cc47e" stroke-width="0.8"/>
<line x1="125.46" y1="179.64" x2="128.06" y2="179.64" stroke="#7cc47e" stroke-width="0.8"/>
<line x1="125.46" y1="190.01" x2="128.06" y2="190.01" stroke="#7cc47e" stroke-width="0.8"/>
<line x1="140.62" y1="180.03" x2="140.62" y2="190.40" stroke="#7cc47e" stroke-width="0.8"/>
<line x1="139.32" y1="180.03" x2="141.92" y2="180.03" stroke="#7cc47e" stroke-width="0.8"/>
<line x1="139.32" y1="190.40" x2="141.92" y2="190.40" stroke="#7cc47e" stroke-width="0.8"/>
<line x1="154.48" y1="180.29" x2="154.48" y2="191.96" stroke="#7cc47e" stroke-width="0.8"/>
<line x1="153.18" y1="180.29" x2="155.78" y2="180.29" stroke="#7cc47e" stroke-width="0.8"/>
<line x1="153.18" y1="191.96" x2="155.78" y2="191.96" stroke="#7cc47e" stroke-width="0.8"/>
<line x1="71.32" y1="239.91" x2="71.32" y2="245.09" stroke="#d45a72" stroke-width="0.8"/>
<line x1="70.02" y1="239.91" x2="72.62" y2="239.91" stroke="#d45a72" stroke-width="0.8"/>
<line x1="70.02" y1="245.09" x2="72.62" y2="245.09" stroke="#d45a72" stroke-width="0.8"/>
<line x1="85.18" y1="237.96" x2="85.18" y2="243.15" stroke="#d45a72" stroke-width="0.8"/>
<line x1="83.88" y1="237.96" x2="86.48" y2="237.96" stroke="#d45a72" stroke-width="0.8"/>
<line x1="83.88" y1="243.15" x2="86.48" y2="243.15" stroke="#d45a72" stroke-width="0.8"/>
<line x1="99.04" y1="236.67" x2="99.04" y2="245.09" stroke="#d45a72" stroke-width="0.8"/>
<line x1="97.74" y1="236.67" x2="100.34" y2="236.67" stroke="#d45a72" stroke-width="0.8"/>
<line x1="97.74" y1="245.09" x2="100.34" y2="245.09" stroke="#d45a72" stroke-width="0.8"/>
<line x1="112.90" y1="229.73" x2="112.90" y2="240.10" stroke="#d45a72" stroke-width="0.8"/>
<line x1="111.60" y1="229.73" x2="114.20" y2="229.73" stroke="#d45a72" stroke-width="0.8"/>
<line x1="111.60" y1="240.10" x2="114.20" y2="240.10" stroke="#d45a72" stroke-width="0.8"/>
<line x1="126.76" y1="223.19" x2="126.76" y2="233.56" stroke="#d45a72" stroke-width="0.8"/>
<line x1="125.46" y1="223.19" x2="128.06" y2="223.19" stroke="#d45a72" stroke-width="0.8"/>
<line x1="125.46" y1="233.56" x2="128.06" y2="233.56" stroke="#d45a72" stroke-width="0.8"/>
<line x1="140.62" y1="186.77" x2="140.62" y2="200.38" stroke="#d45a72" stroke-width="0.8"/>
<line x1="139.32" y1="186.77" x2="141.92" y2="186.77" stroke="#d45a72" stroke-width="0.8"/>
<line x1="139.32" y1="200.38" x2="141.92" y2="200.38" stroke="#d45a72" stroke-width="0.8"/>
<line x1="154.48" y1="184.18" x2="154.48" y2="190.66" stroke="#d45a72" stroke-width="0.8"/>
<line x1="153.18" y1="184.18" x2="155.78" y2="184.18" stroke="#d45a72" stroke-width="0.8"/>
<line x1="153.18" y1="190.66" x2="155.78" y2="190.66" stroke="#d45a72" stroke-width="0.8"/>
<circle cx="71.32" cy="247.68" r="1.8" fill="#3b4a62"/>
<circle cx="85.18" cy="246.39" r="1.8" fill="#3b4a62"/>
<circle cx="99.04" cy="247.68" r="1.8" fill="#3b4a62"/>
<circle cx="112.90" cy="243.80" r="1.8" fill="#3b4a62"/>
<circle cx="126.76" cy="247.04" r="1.8" fill="#3b4a62"/>
<circle cx="140.62" cy="244.77" r="1.8" fill="#3b4a62"/>
<circle cx="154.48" cy="239.58" r="1.8" fill="#3b4a62"/>
<path d="M71.32,240.5 L73.32,242.5 L71.32,244.5 L69.32,242.5 Z" fill="#a8102c"/>
<path d="M85.18,238.556 L87.18,240.556 L85.18,242.556 L83.18,240.556 Z" fill="#a8102c"/>
<path d="M99.04,239.204 L101.04,241.204 L99.04,243.204 L97.04,241.204 Z" fill="#a8102c"/>
<path d="M112.9,232.9184 L114.9,234.9184 L112.9,236.9184 L110.9,234.9184 Z" fill="#a8102c"/>
<path d="M126.76,226.3736 L128.76,228.3736 L126.76,230.3736 L124.76,228.3736 Z" fill="#a8102c"/>
<path d="M140.62,187.364 L142.62,189.364 L140.62,191.364 L138.62,189.364 Z" fill="#a8102c"/>
<path d="M154.48000000000002,184.772 L156.48000000000002,186.772 L154.48000000000002,188.772 L152.48000000000002,186.772 Z" fill="#a8102c"/>
<path d="M69.61999999999999,227.53199999999998 L73.02,227.53199999999998 L71.32,230.422 Z" fill="#3aa6d8"/>
<path d="M83.48,225.588 L86.88000000000001,225.588 L85.18,228.478 Z" fill="#3aa6d8"/>
<path d="M97.34,197.724 L100.74000000000001,197.724 L99.04,200.614 Z" fill="#3aa6d8"/>
<path d="M111.2,183.468 L114.60000000000001,183.468 L112.9,186.358 Z" fill="#3aa6d8"/>
<path d="M125.06,183.468 L128.46,183.468 L126.76,186.358 Z" fill="#3aa6d8"/>
<path d="M138.92000000000002,183.468 L142.32,183.468 L140.62,186.358 Z" fill="#3aa6d8"/>
<path d="M152.78000000000003,184.11599999999999 L156.18,184.11599999999999 L154.48000000000002,187.006 Z" fill="#3aa6d8"/>
<path d="M55.76,231.2256 L59.160000000000004,231.2256 L57.46,234.1156 Z" fill="#3aa6d8"/>
<path d="M69.61999999999999,237.38000000000002 L73.02,237.38000000000002 L71.32,234.49 Z" fill="#3d9e4c"/>
<path d="M83.48,233.49200000000002 L86.88000000000001,233.49200000000002 L85.18,230.602 Z" fill="#3d9e4c"/>
<path d="M97.34,188.78000000000003 L100.74000000000001,188.78000000000003 L99.04,185.89000000000001 Z" fill="#3d9e4c"/>
<path d="M111.2,186.18800000000002 L114.60000000000001,186.18800000000002 L112.9,183.298 Z" fill="#3d9e4c"/>
<path d="M125.06,186.18800000000002 L128.46,186.18800000000002 L126.76,183.298 Z" fill="#3d9e4c"/>
<path d="M138.92000000000002,186.5768 L142.32,186.5768 L140.62,183.68679999999998 Z" fill="#3d9e4c"/>
<path d="M152.78000000000003,187.484 L156.18,187.484 L154.48000000000002,184.594 Z" fill="#3d9e4c"/>
<text x="88.50" y="172.00" font-size="8.61" fill="#62bb62" stroke="#62bb62" stroke-width="0.1" textLength="29.80" lengthAdjust="spacingAndGlyphs">0.34 µM</text>
<text x="97.20" y="218.00" font-size="8.61" fill="#56aede" stroke="#56aede" stroke-width="0.1" textLength="29.80" lengthAdjust="spacingAndGlyphs">0.43 µM</text>
<text x="134.20" y="232.10" font-size="8.61" fill="#c8102e" stroke="#c8102e" stroke-width="0.1" textLength="29.80" lengthAdjust="spacingAndGlyphs">2.50 µM</text>
<rect x="175.4" y="183.0" width="5.0" height="5.0" fill="#c4c4c4"/>
<text x="183.70" y="188.00" font-size="7.98" fill="#1a1a1a" stroke="#1a1a1a" stroke-width="0.2" textLength="19.80" lengthAdjust="spacingAndGlyphs">Media</text>
<circle cx="177.90" cy="197.00" r="2.7" fill="#3b4a62"/>
<text x="183.70" y="199.60" font-size="7.98" fill="#1a1a1a" stroke="#1a1a1a" stroke-width="0.2" textLength="23.20" lengthAdjust="spacingAndGlyphs">DMSO</text>
<path d="M175.20000000000002,205.84 L180.6,205.84 L177.9,210.43 Z" fill="#3aa6d8"/>
<text x="183.70" y="211.00" font-size="7.98" fill="#1a1a1a" stroke="#1a1a1a" stroke-width="0.2" textLength="31.10" lengthAdjust="spacingAndGlyphs">Bosutinib</text>
<path d="M178.3,216.70000000000002 L181.4,219.8 L178.3,222.9 L175.20000000000002,219.8 Z" fill="#a8102c"/>
<text x="183.70" y="222.40" font-size="7.98" fill="#1a1a1a" stroke="#1a1a1a" stroke-width="0.2" textLength="27.00" lengthAdjust="spacingAndGlyphs">Imatinib</text>
<path d="M175.20000000000002,233.16 L180.6,233.16 L177.9,228.57 Z" fill="#3d9e4c"/>
<text x="183.70" y="233.80" font-size="7.98" fill="#1a1a1a" stroke="#1a1a1a" stroke-width="0.2" textLength="27.50" lengthAdjust="spacingAndGlyphs">Nilotinib</text>
<text x="86.20" y="302.70" font-size="10.08" fill="#1a1a1a" stroke="#1a1a1a" stroke-width="0.2" textLength="56.30" lengthAdjust="spacingAndGlyphs">Growth assay</text>
<line x1="52.80" y1="308.00" x2="52.80" y2="403.60" stroke="#2a2a2a" stroke-width="1.3"/>
<line x1="52.20" y1="403.00" x2="174.80" y2="403.00" stroke="#2a2a2a" stroke-width="1.3"/>
<line x1="49.60" y1="403.00" x2="52.80" y2="403.00" stroke="#2a2a2a" stroke-width="1.1"/>
<text x="46.00" y="405.80" font-size="8.19" fill="#1a1a1a" stroke="#1a1a1a" stroke-width="0.2" text-anchor="end">0</text>
<line x1="49.60" y1="380.06" x2="52.80" y2="380.06" stroke="#2a2a2a" stroke-width="1.1"/>
<text x="46.00" y="382.86" font-size="8.19" fill="#1a1a1a" stroke="#1a1a1a" stroke-width="0.2" text-anchor="end">2</text>
<line x1="49.60" y1="357.12" x2="52.80" y2="357.12" stroke="#2a2a2a" stroke-width="1.1"/>
<text x="46.00" y="359.92" font-size="8.19" fill="#1a1a1a" stroke="#1a1a1a" stroke-width="0.2" text-anchor="end">4</text>
<line x1="49.60" y1="334.18" x2="52.80" y2="334.18" stroke="#2a2a2a" stroke-width="1.1"/>
<text x="46.00" y="336.98" font-size="8.19" fill="#1a1a1a" stroke="#1a1a1a" stroke-width="0.2" text-anchor="end">6</text>
<line x1="49.60" y1="311.24" x2="52.80" y2="311.24" stroke="#2a2a2a" stroke-width="1.1"/>
<text x="46.00" y="314.04" font-size="8.19" fill="#1a1a1a" stroke="#1a1a1a" stroke-width="0.2" text-anchor="end">8</text>
<line x1="52.80" y1="403.00" x2="52.80" y2="405.80" stroke="#2a2a2a" stroke-width="1.1"/>
<text x="52.80" y="416.60" font-size="8.19" fill="#1a1a1a" stroke="#1a1a1a" stroke-width="0.2" text-anchor="middle">0</text>
<line x1="70.01" y1="403.00" x2="70.01" y2="405.80" stroke="#2a2a2a" stroke-width="1.1"/>
<text x="70.01" y="416.60" font-size="8.19" fill="#1a1a1a" stroke="#1a1a1a" stroke-width="0.2" text-anchor="middle">12</text>
<line x1="87.23" y1="403.00" x2="87.23" y2="405.80" stroke="#2a2a2a" stroke-width="1.1"/>
<text x="87.23" y="416.60" font-size="8.19" fill="#1a1a1a" stroke="#1a1a1a" stroke-width="0.2" text-anchor="middle">24</text>
<line x1="104.44" y1="403.00" x2="104.44" y2="405.80" stroke="#2a2a2a" stroke-width="1.1"/>
<text x="104.44" y="416.60" font-size="8.19" fill="#1a1a1a" stroke="#1a1a1a" stroke-width="0.2" text-anchor="middle">36</text>
<line x1="121.66" y1="403.00" x2="121.66" y2="405.80" stroke="#2a2a2a" stroke-width="1.1"/>
<text x="121.66" y="416.60" font-size="8.19" fill="#1a1a1a" stroke="#1a1a1a" stroke-width="0.2" text-anchor="middle">48</text>
<line x1="138.87" y1="403.00" x2="138.87" y2="405.80" stroke="#2a2a2a" stroke-width="1.1"/>
<text x="138.87" y="416.60" font-size="8.19" fill="#1a1a1a" stroke="#1a1a1a" stroke-width="0.2" text-anchor="middle">60</text>
<line x1="156.08" y1="403.00" x2="156.08" y2="405.80" stroke="#2a2a2a" stroke-width="1.1"/>
<text x="156.08" y="416.60" font-size="8.19" fill="#1a1a1a" stroke="#1a1a1a" stroke-width="0.2" text-anchor="middle">72</text>
<line x1="173.30" y1="403.00" x2="173.30" y2="405.80" stroke="#2a2a2a" stroke-width="1.1"/>
<text x="173.30" y="416.60" font-size="8.19" fill="#1a1a1a" stroke="#1a1a1a" stroke-width="0.2" text-anchor="middle">84</text>
<text x="100.00" y="429.60" font-size="8.93" fill="#1a1a1a" stroke="#1a1a1a" stroke-width="0.3" textLength="28.50" lengthAdjust="spacingAndGlyphs">Time h.p.i</text>
<text x="0" y="0" font-size="9.24" fill="#1a1a1a" text-anchor="middle" dominant-baseline="central" stroke="#1a1a1a" stroke-width="0.3" textLength="43.00" lengthAdjust="spacingAndGlyphs" transform="translate(33.00,356.80) rotate(-90)">% Parasitemia</text>
<line x1="104.44" y1="368.59" x2="104.44" y2="380.06" stroke="#cfcfcf" stroke-width="0.8"/>
<line x1="103.14" y1="368.59" x2="105.74" y2="368.59" stroke="#cfcfcf" stroke-width="0.8"/>
<line x1="103.14" y1="380.06" x2="105.74" y2="380.06" stroke="#cfcfcf" stroke-width="0.8"/>
<line x1="126.39" y1="334.18" x2="126.39" y2="346.80" stroke="#cfcfcf" stroke-width="0.8"/>
<line x1="125.09" y1="334.18" x2="127.69" y2="334.18" stroke="#cfcfcf" stroke-width="0.8"/>
<line x1="125.09" y1="346.80" x2="127.69" y2="346.80" stroke="#cfcfcf" stroke-width="0.8"/>
<line x1="138.87" y1="327.30" x2="138.87" y2="339.92" stroke="#cfcfcf" stroke-width="0.8"/>
<line x1="137.57" y1="327.30" x2="140.17" y2="327.30" stroke="#cfcfcf" stroke-width="0.8"/>
<line x1="137.57" y1="339.92" x2="140.17" y2="339.92" stroke="#cfcfcf" stroke-width="0.8"/>
<line x1="156.08" y1="334.18" x2="156.08" y2="347.94" stroke="#cfcfcf" stroke-width="0.8"/>
<line x1="154.78" y1="334.18" x2="157.38" y2="334.18" stroke="#cfcfcf" stroke-width="0.8"/>
<line x1="154.78" y1="347.94" x2="157.38" y2="347.94" stroke="#cfcfcf" stroke-width="0.8"/>
<line x1="126.39" y1="364.00" x2="126.39" y2="375.47" stroke="#56627a" stroke-width="0.8"/>
<line x1="125.09" y1="364.00" x2="127.69" y2="364.00" stroke="#56627a" stroke-width="0.8"/>
<line x1="125.09" y1="375.47" x2="127.69" y2="375.47" stroke="#56627a" stroke-width="0.8"/>
<line x1="138.87" y1="323.86" x2="138.87" y2="337.62" stroke="#56627a" stroke-width="0.8"/>
<line x1="137.57" y1="323.86" x2="140.17" y2="323.86" stroke="#56627a" stroke-width="0.8"/>
<line x1="137.57" y1="337.62" x2="140.17" y2="337.62" stroke="#56627a" stroke-width="0.8"/>
<line x1="156.08" y1="313.53" x2="156.08" y2="341.06" stroke="#6a7488" stroke-width="0.8"/>
<line x1="154.78" y1="313.53" x2="157.38" y2="313.53" stroke="#6a7488" stroke-width="0.8"/>
<line x1="154.78" y1="341.06" x2="157.38" y2="341.06" stroke="#6a7488" stroke-width="0.8"/>
<polyline points="70.01,396.69 91.24,392.68 104.44,374.67 126.39,340.03 138.87,331.89 156.08,335.33" fill="none" stroke="#c8c8c8" stroke-width="0.9"/>
<polyline points="70.01,396.46 91.24,392.68 104.44,393.82 126.39,397.61 138.87,397.84 156.08,398.07" fill="none" stroke="#6cc4d8" stroke-width="1.2"/>
<polyline points="70.01,396.46 91.24,392.68 104.44,394.05 126.39,398.18 138.87,398.41 156.08,398.64" fill="none" stroke="#4aa870" stroke-width="0.9"/>
<polyline points="70.01,396.46 91.24,392.68 104.44,394.86 126.39,400.02 138.87,400.02 156.08,400.71" fill="none" stroke="#c8102e" stroke-width="1.0"/>
<polyline points="70.01,396.46 91.24,392.33 104.44,382.70 126.39,369.39 138.87,331.31 156.08,326.95" fill="none" stroke="#3b4a62" stroke-width="0.9"/>
<rect x="68.01" y="394.69" width="4.0" height="4.0" fill="#c4c4c4"/>
<rect x="89.24" y="390.68" width="4.0" height="4.0" fill="#c4c4c4"/>
<rect x="102.44" y="372.67" width="4.0" height="4.0" fill="#c4c4c4"/>
<rect x="124.39" y="338.03" width="4.0" height="4.0" fill="#c4c4c4"/>
<rect x="136.87" y="329.89" width="4.0" height="4.0" fill="#c4c4c4"/>
<rect x="154.08" y="333.33" width="4.0" height="4.0" fill="#c4c4c4"/>
<path d="M102.94200000000001,392.624 L105.94200000000001,392.624 L104.44200000000001,395.17400000000004 Z" fill="#3aa6d8"/>
<path d="M124.88985,396.4091 L127.88985,396.4091 L126.38985,398.95910000000003 Z" fill="#3aa6d8"/>
<path d="M137.37,396.6385 L140.37,396.6385 L138.87,399.18850000000003 Z" fill="#3aa6d8"/>
<path d="M154.584,396.8679 L157.584,396.8679 L156.084,399.41790000000003 Z" fill="#3aa6d8"/>
<path d="M102.94200000000001,395.2534 L105.94200000000001,395.2534 L104.44200000000001,392.7034 Z" fill="#3d9e4c"/>
<path d="M124.88985,399.38259999999997 L127.88985,399.38259999999997 L126.38985,396.83259999999996 Z" fill="#3d9e4c"/>
<path d="M137.37,399.61199999999997 L140.37,399.61199999999997 L138.87,397.06199999999995 Z" fill="#3d9e4c"/>
<path d="M154.584,399.84139999999996 L157.584,399.84139999999996 L156.084,397.29139999999995 Z" fill="#3d9e4c"/>
<path d="M104.44200000000001,392.6563 L106.64200000000001,394.8563 L104.44200000000001,397.05629999999996 L102.242,394.8563 Z" fill="#a8102c"/>
<path d="M126.38985,397.81780000000003 L128.58984999999998,400.0178 L126.38985,402.2178 L124.18984999999999,400.0178 Z" fill="#a8102c"/>
<path d="M138.87,397.81780000000003 L141.07,400.0178 L138.87,402.2178 L136.67000000000002,400.0178 Z" fill="#a8102c"/>
<path d="M156.084,398.50600000000003 L158.284,400.706 L156.084,402.906 L153.88400000000001,400.706 Z" fill="#a8102c"/>
<circle cx="70.01" cy="396.46" r="2.4" fill="#3b4a62"/>
<circle cx="91.24" cy="392.33" r="2.4" fill="#3b4a62"/>
<circle cx="104.44" cy="382.70" r="2.4" fill="#3b4a62"/>
<circle cx="126.39" cy="369.39" r="2.4" fill="#3b4a62"/>
<circle cx="138.87" cy="331.31" r="2.4" fill="#3b4a62"/>
<circle cx="156.08" cy="326.95" r="2.4" fill="#3b4a62"/>
<text x="0" y="0" font-size="7.4" fill="#cfcfcf" text-anchor="middle" dominant-baseline="central" transform="translate(112.2,352.6) rotate(-50)">Media</text>
<text x="0" y="0" font-size="8.2" fill="#3b4a62" text-anchor="middle" dominant-baseline="central" transform="translate(118.8,384.4) rotate(-26)">DMSO</text>
<text x="230.70" y="155.50" font-size="11.6" fill="#111" stroke="#111" stroke-width="0.45" textLength="7.60" lengthAdjust="spacingAndGlyphs" font-weight="bold">C</text>
<line x1="254.30" y1="160.80" x2="254.30" y2="430.20" stroke="#8c8c8c" stroke-width="1.1"/>
<line x1="318.50" y1="160.80" x2="318.50" y2="430.20" stroke="#8c8c8c" stroke-width="1.1"/>
<line x1="382.30" y1="160.80" x2="382.30" y2="430.20" stroke="#8c8c8c" stroke-width="1.1"/>
<line x1="446.00" y1="160.80" x2="446.00" y2="430.20" stroke="#8c8c8c" stroke-width="1.1"/>
<line x1="254.30" y1="160.80" x2="446.00" y2="160.80" stroke="#8c8c8c" stroke-width="1.1"/>
<line x1="254.30" y1="213.70" x2="446.00" y2="213.70" stroke="#8c8c8c" stroke-width="1.1"/>
<line x1="254.30" y1="266.50" x2="446.00" y2="266.50" stroke="#8c8c8c" stroke-width="1.1"/>
<line x1="254.30" y1="319.60" x2="446.00" y2="319.60" stroke="#8c8c8c" stroke-width="1.1"/>
<line x1="254.30" y1="430.20" x2="446.00" y2="430.20" stroke="#8c8c8c" stroke-width="1.1"/>
<text x="280.00" y="155.60" font-size="8.19" fill="#1a1a1a" stroke="#1a1a1a" stroke-width="0.2" textLength="14.90" lengthAdjust="spacingAndGlyphs">12 h</text>
<text x="342.30" y="155.50" font-size="8.19" fill="#1a1a1a" stroke="#1a1a1a" stroke-width="0.2" textLength="16.40" lengthAdjust="spacingAndGlyphs">41 h</text>
<text x="406.30" y="155.50" font-size="8.19" fill="#1a1a1a" stroke="#1a1a1a" stroke-width="0.2" textLength="16.00" lengthAdjust="spacingAndGlyphs">72 h</text>
<text x="447.30" y="155.50" font-size="8.19" fill="#1a1a1a" stroke="#1a1a1a" stroke-width="0.2" textLength="38.50" lengthAdjust="spacingAndGlyphs">Action time</text>
<text x="0" y="0" font-size="8.4" fill="#1a1a1a" text-anchor="middle" dominant-baseline="central" stroke="#1a1a1a" stroke-width="0.2" textLength="24.50" lengthAdjust="spacingAndGlyphs" transform="translate(246.00,189.10) rotate(-90)">DMSO</text>
<text x="0" y="0" font-size="8.4" fill="#1a1a1a" text-anchor="middle" dominant-baseline="central" stroke="#1a1a1a" stroke-width="0.2" textLength="32.80" lengthAdjust="spacingAndGlyphs" transform="translate(245.80,240.10) rotate(-90)">Bosutinib</text>
<text x="0" y="0" font-size="8.4" fill="#1a1a1a" text-anchor="middle" dominant-baseline="central" stroke="#1a1a1a" stroke-width="0.2" textLength="28.20" lengthAdjust="spacingAndGlyphs" transform="translate(245.80,292.90) rotate(-90)">Nilotinib</text>
<text x="0" y="0" font-size="8.4" fill="#1a1a1a" text-anchor="middle" dominant-baseline="central" stroke="#1a1a1a" stroke-width="0.2" textLength="28.20" lengthAdjust="spacingAndGlyphs" transform="translate(245.80,369.30) rotate(-90)">Imatinib</text>
<text x="450.60" y="249.10" font-size="8.19" fill="#1a1a1a" stroke="#1a1a1a" stroke-width="0.2" textLength="62.20" lengthAdjust="spacingAndGlyphs">Troph progression</text>
<text x="450.60" y="293.80" font-size="8.19" fill="#1a1a1a" stroke="#1a1a1a" stroke-width="0.2" textLength="62.20" lengthAdjust="spacingAndGlyphs">Troph progression</text>
<text x="449.80" y="378.80" font-size="8.19" fill="#1a1a1a" stroke="#1a1a1a" stroke-width="0.2" textLength="24.30" lengthAdjust="spacingAndGlyphs">Egress</text>
<ellipse cx="283.5" cy="188.3" rx="19.3" ry="18.7" fill="url(#cg1)" filter="url(#tex)" transform="rotate(0 283.5 188.3)"/>
<ellipse cx="284.0" cy="188.5" rx="12.5" ry="12.0" fill="#cca4d6" opacity="0.4" filter="url(#b12)" transform="rotate(0 284.0 188.5)"/>
<ellipse cx="285.4" cy="187.6" rx="3.8" ry="3.8" fill="#f2e4f4" opacity="1" filter="url(#b08)" transform="rotate(0 285.4 187.6)"/>
<ellipse cx="290.9" cy="185.2" rx="3.9" ry="4.3" fill="#e2c2ea" stroke="#9a6cb8" stroke-width="1.6" filter="url(#b05)"/>
<ellipse cx="285.6" cy="188.0" rx="2.4" ry="2.8" fill="#2a1a84" opacity="1" filter="url(#b05)" transform="rotate(0 285.6 188.0)"/>
<ellipse cx="350.0" cy="187.5" rx="10.0" ry="10.5" fill="#eee4f2" opacity="1" filter="url(#b2)" transform="rotate(0 350.0 187.5)"/>
<ellipse cx="351.5" cy="187.5" rx="5.5" ry="6.0" fill="#f8f4fa" opacity="1" filter="url(#b2)" transform="rotate(0 351.5 187.5)"/>
<path d="M354.8,177.7 C354,175.5 352.5,174.3 350,172 C347,169.5 343,168.6 339.6,168.9 C335.5,169.4 331.5,172 328.8,175.8 C327,178 326,180 325.4,182.1 C323.5,185 322.5,187.5 322.9,190 C323.8,192.5 325.5,194 327.8,194.9 C330,197.5 332,199 334.7,200.3 C337.5,202.5 340.5,204 343.5,204.2 C347,204 350,202.5 352.3,201.2 C354.5,199.5 356,198 357.2,196.3 C354.5,196.8 351.5,197.4 349.4,197.3 C347,196.8 345.3,195.8 344,194.4 C342.5,193 341.7,191.8 341.5,190.5 C341,188.5 340.8,186.5 341,185 C341.5,184 342,183.3 343,182.6 C344.3,181.2 345.5,180.3 346.9,179.7 C349.5,178.8 352.5,178.2 354.8,177.7 Z" fill="#5e44b6" filter="url(#texd)"/>
<ellipse cx="330.0" cy="178.5" rx="3.2" ry="2.6" fill="#8a6ccc" opacity="0.8" filter="url(#b08)" transform="rotate(0 330.0 178.5)"/>
<ellipse cx="335.5" cy="197.5" rx="3.6" ry="2.6" fill="#7c5cc8" opacity="0.8" filter="url(#b08)" transform="rotate(0 335.5 197.5)"/>
<ellipse cx="349.5" cy="174.5" rx="3.0" ry="2.2" fill="#7e60c6" opacity="0.7" filter="url(#b08)" transform="rotate(0 349.5 174.5)"/>
<ellipse cx="350.5" cy="200.5" rx="3.2" ry="2.0" fill="#4a30a4" opacity="0.8" filter="url(#b08)" transform="rotate(0 350.5 200.5)"/>
<ellipse cx="331.8" cy="183.8" rx="3.7" ry="3.5" fill="#1a0840" opacity="1" filter="url(#b08)" transform="rotate(0 331.8 183.8)"/>
<ellipse cx="342.0" cy="173.9" rx="3.3" ry="3.0" fill="#1c0a4c" opacity="1" filter="url(#b08)" transform="rotate(0 342.0 173.9)"/>
<ellipse cx="342.2" cy="199.4" rx="3.8" ry="2.9" fill="#50103c" opacity="1" filter="url(#b08)" transform="rotate(0 342.2 199.4)"/>
<ellipse cx="325.0" cy="189.5" rx="1.8" ry="2.4" fill="#3a2490" opacity="0.8" filter="url(#b05)" transform="rotate(0 325.0 189.5)"/>
<path d="M396,176 C399,171 405,169.6 411,169.8 C418,170 423.5,173 426,178.5 C428,184 428,191 426,196.5 C423.5,202 417,205.5 410,205.5 C403,205.5 397,202.5 394.5,197 C392.5,191.5 392.5,182 396,176 Z" fill="url(#cgDM3)" filter="url(#tex)"/>
<ellipse cx="407.2" cy="181.8" rx="6.8" ry="6.4" fill="#8a56b6" opacity="0.9" filter="url(#b08)" transform="rotate(0 407.2 181.8)"/>
<ellipse cx="401.8" cy="180.0" rx="1.8" ry="3.0" fill="#4a2a98" opacity="0.9" filter="url(#b08)" transform="rotate(0 401.8 180.0)"/>
<ellipse cx="406.8" cy="181.2" rx="3.2" ry="3.8" fill="#fdf8fd" opacity="1" filter="url(#b05)" transform="rotate(0 406.8 181.2)"/>
<ellipse cx="406.9" cy="186.8" rx="3.4" ry="1.8" fill="#341a80" opacity="1" filter="url(#b05)" transform="rotate(0 406.9 186.8)"/>
<ellipse cx="285.0" cy="243.0" rx="17.8" ry="19.6" fill="url(#cg2)" filter="url(#tex)" transform="rotate(0 285.0 243.0)"/>
<ellipse cx="284.8" cy="253.2" rx="5.4" ry="5.0" fill="#e8d6ee" stroke="#a884c6" stroke-width="1.0" filter="url(#b05)"/>
<path d="M279.8,251.5 C279.2,255 281,258 284,258.6 C286.5,259 288.5,258 289.6,256.5" fill="none" stroke="#8a5cb2" stroke-width="1.6" filter="url(#b05)"/>
<ellipse cx="282.0" cy="258.4" rx="4.2" ry="2.0" fill="#2c1a92" opacity="1" filter="url(#b05)" transform="rotate(0 282.0 258.4)"/>
<ellipse cx="349.4" cy="242.2" rx="18.7" ry="21.0" fill="url(#cg3)" filter="url(#tex)" transform="rotate(0 349.4 242.2)"/>
<ellipse cx="343.6" cy="253.6" rx="5.3" ry="5.0" fill="#22148c" opacity="1" filter="url(#b08)" transform="rotate(0 343.6 253.6)"/>
<ellipse cx="347.0" cy="252.0" rx="2.5" ry="2.5" fill="#3a2aa0" opacity="0.6" filter="url(#b05)" transform="rotate(0 347.0 252.0)"/>
<ellipse cx="411.2" cy="239.8" rx="20.3" ry="19.0" fill="url(#cg4)" filter="url(#tex)" transform="rotate(0 411.2 239.8)"/>
<ellipse cx="416.4" cy="230.2" rx="2.0" ry="3.0" fill="#2a1a72" opacity="1" filter="url(#b05)" transform="rotate(0 416.4 230.2)"/>
<ellipse cx="406.0" cy="243.0" rx="5.0" ry="5.0" fill="#e6d2ec" opacity="0.6" filter="url(#b12)" transform="rotate(0 406.0 243.0)"/>
<ellipse cx="284.5" cy="296.0" rx="19.0" ry="18.9" fill="url(#cg5)" filter="url(#tex)" transform="rotate(0 284.5 296.0)"/>
<ellipse cx="290.0" cy="285.4" rx="4.3" ry="4.6" fill="#ead8f0" stroke="#a27cc4" stroke-width="1.2" filter="url(#b05)"/>
<path d="M287.5,281.2 C290,280 293.5,281 294.4,284 C295.2,287 293.5,289.6 290.8,290.2" fill="none" stroke="#6236a0" stroke-width="2.0" filter="url(#b05)"/>
<ellipse cx="291.5" cy="289.8" rx="1.8" ry="1.2" fill="#3a1c80" opacity="1" filter="url(#b05)" transform="rotate(0 291.5 289.8)"/>
<ellipse cx="349.5" cy="295.2" rx="19.4" ry="19.7" fill="url(#cg6)" filter="url(#tex)" transform="rotate(0 349.5 295.2)"/>
<ellipse cx="345.0" cy="295.5" rx="3.0" ry="6.5" fill="#f6eef8" opacity="0.8" filter="url(#b12)" transform="rotate(20 345.0 295.5)"/>
<ellipse cx="360.5" cy="293.3" rx="6.0" ry="6.6" fill="#3c2496" opacity="1" filter="url(#b08)" transform="rotate(0 360.5 293.3)"/>
<ellipse cx="363.5" cy="297.5" rx="3.0" ry="4.0" fill="#7e58bc" opacity="0.8" filter="url(#b08)" transform="rotate(0 363.5 297.5)"/>
<ellipse cx="411.2" cy="294.0" rx="21.0" ry="19.0" fill="url(#cg7)" filter="url(#tex)" transform="rotate(0 411.2 294.0)"/>
<ellipse cx="413.1" cy="305.3" rx="4.2" ry="5.4" fill="#4c3296" opacity="1" filter="url(#b08)" transform="rotate(0 413.1 305.3)"/>
<ellipse cx="405.0" cy="283.0" rx="4.0" ry="2.0" fill="#b08cd0" opacity="0.8" filter="url(#b08)" transform="rotate(0 405.0 283.0)"/>
<ellipse cx="396.2" cy="302.0" rx="1.6" ry="1.6" fill="#8c62b2" opacity="1" filter="url(#b05)" transform="rotate(0 396.2 302.0)"/>
<ellipse cx="283.0" cy="372.5" rx="19.6" ry="20.0" fill="url(#cg8)" filter="url(#tex)" transform="rotate(0 283.0 372.5)"/>
<ellipse cx="286.6" cy="385.8" rx="5.6" ry="4.9" fill="#d8acdc" opacity="1" filter="url(#b05)" transform="rotate(0 286.6 385.8)"/>
<path d="M281.5,383.5 C281,387.5 283.5,390.8 287.5,390.8 C290.5,390.6 292.2,389 292.3,387" fill="none" stroke="#9458b2" stroke-width="1.6" filter="url(#b05)"/>
<ellipse cx="289.9" cy="378.4" rx="2.9" ry="2.7" fill="#28104c" opacity="1" filter="url(#b05)" transform="rotate(0 289.9 378.4)"/>
<ellipse cx="344.0" cy="371.0" rx="18.6" ry="19.0" fill="#e4d4ec" opacity="1" filter="url(#b08)" transform="rotate(0 344.0 371.0)"/>
<ellipse cx="340.0" cy="372.0" rx="13.0" ry="15.0" fill="#f6f0f8" opacity="1" filter="url(#b12)" transform="rotate(0 340.0 372.0)"/>
<path d="M331.4,358 C333,355.5 335,354 337.7,353.2 C340.5,352 343.5,351.6 346.1,351.7 C349,351.8 351.5,352.3 353.4,353.2 C356.5,355 359,357.5 360.8,360.6 C362.8,363.5 364.3,366.8 364.5,370 C364.6,372.8 364.2,375.2 363.4,377.4 C361.9,380.2 360,382.7 357.6,384.7 C356,386.5 354.3,388 352.4,388.9 C350,389.6 347.8,389.7 345.6,389.4 C344.6,387.5 344.4,385.5 344.5,383.6 C344.3,381.5 343.5,379.5 343,377.4 C342.6,375.3 342.5,373 342.4,371 C341.6,369 340.3,367.2 338.8,365.8 C337.5,364.3 336,362.8 334.6,361.6 C333.4,360.5 332.3,359.3 331.4,358 Z" fill="#30269c" filter="url(#texd2)"/>
<ellipse cx="358.5" cy="372.0" rx="3.0" ry="7.0" fill="#5a3ab4" opacity="0.7" filter="url(#b08)" transform="rotate(0 358.5 372.0)"/>
<ellipse cx="343.0" cy="362.3" rx="4.3" ry="3.3" fill="#0e0626" opacity="1" filter="url(#b08)" transform="rotate(0 343.0 362.3)"/>
<ellipse cx="350.4" cy="384.3" rx="3.2" ry="4.2" fill="#0e0626" opacity="1" filter="url(#b08)" transform="rotate(0 350.4 384.3)"/>
<ellipse cx="407.0" cy="347.9" rx="18.6" ry="19.3" fill="url(#cg9)" filter="url(#tex)" transform="rotate(0 407.0 347.9)"/>
<ellipse cx="398.5" cy="345.5" rx="5.0" ry="6.0" fill="#c488d0" opacity="0.8" filter="url(#b12)" transform="rotate(0 398.5 345.5)"/>
<path d="M398,333 C400,330 404,328.8 408,329 C412,329.3 415.5,331 416.6,334.5 C417.2,338 416.5,342 414.5,345.5 C412.5,349 409,351.6 405,351.4 C401,351 398,348.5 397,344.5 C396.2,340.5 396.5,336 398,333 Z" fill="#4a30b0" filter="url(#texd)"/>
<ellipse cx="406.0" cy="337.6" rx="3.6" ry="3.6" fill="#180828" opacity="1" filter="url(#b08)" transform="rotate(0 406.0 337.6)"/>
<ellipse cx="408.0" cy="399.4" rx="20.6" ry="20.8" fill="url(#cg10)" filter="url(#tex)" transform="rotate(0 408.0 399.4)"/>
<ellipse cx="417.0" cy="392.8" rx="5.6" ry="5.9" fill="#dac8e8" stroke="#8a62b4" stroke-width="1.1" filter="url(#b05)"/>
<path d="M412.6,391 C412.2,394.5 414,397.6 417.5,398 C419.2,398.1 420.3,397.6 421,397" fill="none" stroke="#3c1e80" stroke-width="2.0" filter="url(#b05)"/>
<ellipse cx="418.0" cy="391.8" rx="2.6" ry="2.6" fill="#efe6f4" opacity="1" filter="url(#b05)" transform="rotate(0 418.0 391.8)"/>
<path d="M394.5,393.5 C391.5,394 390.2,397 391,400 C391.8,402.6 394,403.6 396,403" fill="none" stroke="#5a2e98" stroke-width="2.2" filter="url(#b08)"/>
<ellipse cx="394.0" cy="398.5" rx="1.6" ry="2.4" fill="#7a4aaa" opacity="0.8" filter="url(#b08)" transform="rotate(0 394.0 398.5)"/>
<text x="256.60" y="211.80" font-size="8.72" fill="#1a1a1a" stroke="#1a1a1a" stroke-width="0.2" textLength="16.80" lengthAdjust="spacingAndGlyphs">90%</text>
<text x="320.80" y="211.80" font-size="8.72" fill="#1a1a1a" stroke="#1a1a1a" stroke-width="0.2" textLength="16.80" lengthAdjust="spacingAndGlyphs">88%</text>
<text x="384.60" y="211.80" font-size="8.72" fill="#1a1a1a" stroke="#1a1a1a" stroke-width="0.2" textLength="16.80" lengthAdjust="spacingAndGlyphs">91%</text>
<text x="256.60" y="264.70" font-size="8.72" fill="#1a1a1a" stroke="#1a1a1a" stroke-width="0.2" textLength="16.80" lengthAdjust="spacingAndGlyphs">90%</text>
<text x="320.80" y="264.70" font-size="8.72" fill="#1a1a1a" stroke="#1a1a1a" stroke-width="0.2" textLength="16.80" lengthAdjust="spacingAndGlyphs">98%</text>
<text x="384.60" y="264.70" font-size="8.72" fill="#1a1a1a" stroke="#1a1a1a" stroke-width="0.2" textLength="21.20" lengthAdjust="spacingAndGlyphs">100%</text>
<text x="256.60" y="318.00" font-size="8.72" fill="#1a1a1a" stroke="#1a1a1a" stroke-width="0.2" textLength="16.80" lengthAdjust="spacingAndGlyphs">90%</text>
<text x="320.80" y="318.00" font-size="8.72" fill="#1a1a1a" stroke="#1a1a1a" stroke-width="0.2" textLength="16.80" lengthAdjust="spacingAndGlyphs">91%</text>
<text x="384.60" y="318.00" font-size="8.72" fill="#1a1a1a" stroke="#1a1a1a" stroke-width="0.2" textLength="16.80" lengthAdjust="spacingAndGlyphs">96%</text>
<text x="256.60" y="427.90" font-size="8.72" fill="#1a1a1a" stroke="#1a1a1a" stroke-width="0.2" textLength="16.80" lengthAdjust="spacingAndGlyphs">90%</text>
<text x="320.80" y="427.90" font-size="8.72" fill="#1a1a1a" stroke="#1a1a1a" stroke-width="0.2" textLength="16.80" lengthAdjust="spacingAndGlyphs">88%</text>
<text x="384.20" y="427.90" font-size="8.72" fill="#1a1a1a" stroke="#1a1a1a" stroke-width="0.2" textLength="16.80" lengthAdjust="spacingAndGlyphs">67%</text>
<text x="384.70" y="372.60" font-size="8.72" fill="#1a1a1a" stroke="#1a1a1a" stroke-width="0.2" textLength="16.80" lengthAdjust="spacingAndGlyphs">23%</text>
<rect x="401.8" y="426.2" width="42.2" height="1.7" fill="#111"/>
<text x="424.40" y="423.30" font-size="8.29" fill="#1a1a1a" stroke="#1a1a1a" stroke-width="0.2" textLength="17.80" lengthAdjust="spacingAndGlyphs">5 µm</text>
<rect x="0" y="0" width="520" height="1" fill="#505050"/>
<rect x="0" y="0" width="1" height="439" fill="#5a5a5a"/>
<rect x="518.7" y="0" width="1.3" height="439" fill="#484848"/>
<rect x="0" y="437.9" width="520" height="1.1" fill="#484848"/>
</svg>
</body></html>
